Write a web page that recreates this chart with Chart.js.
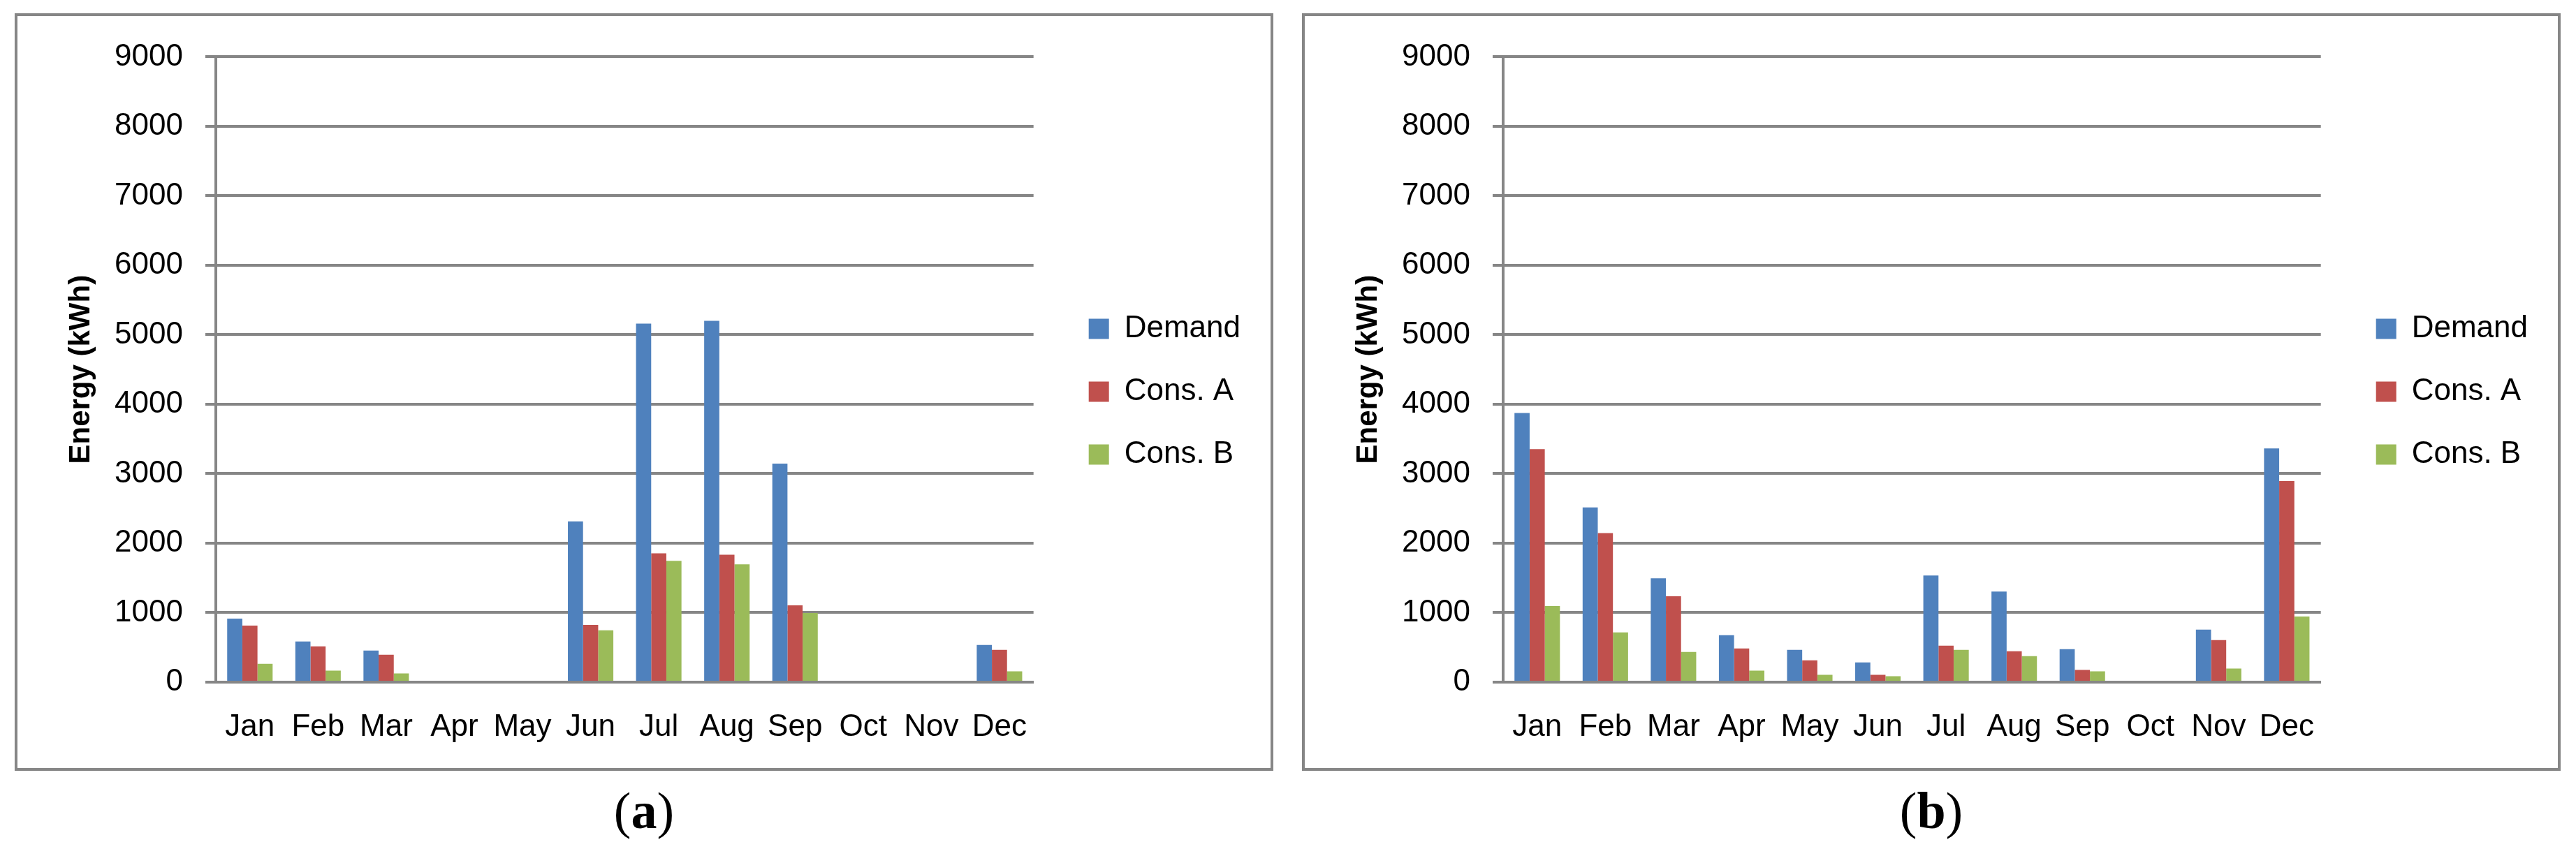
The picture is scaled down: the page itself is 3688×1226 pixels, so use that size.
<!DOCTYPE html>
<html>
<head>
<meta charset="utf-8">
<script src="https://cdn.jsdelivr.net/npm/chart.js@4.4.1/dist/chart.umd.min.js"></script>
<style>
    body { margin: 0; background: #fff; }
    .page { position: relative; width: 3688px; height: 1226px; background: #fff; overflow: hidden; }
    .panel { position: absolute; top: 19px; width: 1802px; height: 1085px; box-sizing: border-box; border: 4px solid #868686; }
    canvas { position: absolute; }
    .caption { position: absolute; top: 1124px; width: 400px; text-align: center; font-family: "Liberation Serif", serif; font-size: 74px; line-height: 1; color: #000; }
</style>
</head>
<body>
<div class="page">
    <div class="panel" style="left: 21px"></div>
    <div class="panel" style="left: 1864px"></div>
    <canvas id="chartA" width="1794" height="1077" style="left: 25px; top: 23px"></canvas>
    <canvas id="chartB" width="1794" height="1077" style="left: 1868px; top: 23px"></canvas>
    <div class="caption" style="left: 722px">(<b>a</b>)</div>
    <div class="caption" style="left: 2565px">(<b>b</b>)</div>
</div>
<script>
// dados (kWh)
const months = ['Jan', 'Feb', 'Mar', 'Apr', 'May', 'Jun', 'Jul', 'Aug', 'Sep', 'Oct', 'Nov', 'Dec']
const seriesNames = ['Demand', 'Cons. A', 'Cons. B']
const seriesColors = ['#4F81BD', '#C0504D', '#9BBB59']

const demandA = [915, 585, 455, 0, 0, 2315, 5160, 5200, 3145, 0, 0, 535]
const consA_A = [815, 515, 395, 0, 0, 825, 1855, 1835, 1105, 0, 0, 465]
const consB_A = [265, 165, 125, 0, 0, 745, 1745, 1695, 995, 0, 0, 155]

const demandB = [3875, 2515, 1495, 675, 465, 285, 1535, 1305, 475, 0, 755, 3365]
const consA_B = [3355, 2145, 1235, 485, 315, 105, 525, 445, 175, 0, 605, 2895]
const consB_B = [1095, 715, 435, 165, 105, 85, 465, 375, 155, 0, 195, 945]

const yMin = 0
const yMax = 9000
const yStep = 1000
const yTitle = 'Energy (kWh)'

const gray = '#868686'
const font = 'Liberation Sans'

function makeChart(canvasId, values) {
    const ctx = document.getElementById(canvasId).getContext('2d')
    return new Chart(ctx, {
        type: 'bar',
        data: {
            labels: months,
            datasets: values.map((v, i) => ({
                label: seriesNames[i],
                data: v,
                backgroundColor: seriesColors[i],
                borderWidth: 0,
                categoryPercentage: 0.667,
                barPercentage: 1.0
            }))
        },
        options: {
            responsive: false,
            animation: false,
            devicePixelRatio: 1,
            layout: {
                padding: { left: 62, top: 30, right: 33, bottom: 31 }
            },
            scales: {
                x: {
                    grid: { display: false, drawTicks: false },
                    border: { display: true, color: gray, width: 4 },
                    ticks: {
                        color: '#000',
                        padding: 38,
                        font: { family: font, size: 44 }
                    },
                    afterFit: function (scale) { scale.height = 92 }
                },
                y: {
                    min: yMin,
                    max: yMax,
                    grid: {
                        color: gray,
                        lineWidth: 4,
                        drawTicks: true,
                        tickLength: 15,
                        tickColor: gray,
                        tickWidth: 4
                    },
                    border: { display: true, color: gray, width: 4 },
                    ticks: {
                        stepSize: yStep,
                        color: '#000',
                        padding: 32,
                        font: { family: font, size: 44 },
                        callback: function (value) { return String(value) }
                    },
                    title: {
                        display: true,
                        text: yTitle,
                        color: '#000',
                        padding: { top: 4, bottom: 0 },
                        font: { family: font, size: 42, weight: 'bold' }
                    },
                    afterFit: function (scale) { scale.width = 222 }
                },
                // espaços vazios: acima da área do gráfico e entre ela e a legenda
                gapTop: {
                    position: 'top',
                    grid: { display: false },
                    border: { display: false },
                    ticks: { display: false },
                    afterFit: function (scale) { scale.height = 24 }
                },
                gap: {
                    position: 'right',
                    grid: { display: false },
                    border: { display: false },
                    ticks: { display: false },
                    afterFit: function (scale) { scale.width = 33 }
                }
            },
            plugins: {
                tooltip: { enabled: false },
                legend: {
                    position: 'right',
                    labels: {
                        boxWidth: 29,
                        boxHeight: 29,
                        padding: 46,
                        color: '#000',
                        font: { family: font, size: 44 }
                    }
                }
            }
        }
    })
}

makeChart('chartA', [demandA, consA_A, consB_A])
makeChart('chartB', [demandB, consA_B, consB_B])
</script>
</body>
</html>
